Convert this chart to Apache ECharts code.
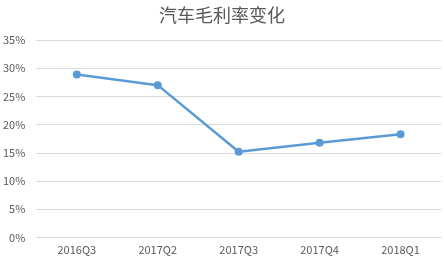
<!DOCTYPE html>
<html><head><meta charset="utf-8">
<script src="https://cdn.jsdelivr.net/npm/echarts@6/dist/echarts.min.js"></script>
<style>html,body{margin:0;padding:0;background:#fff}#c{width:444px;height:263px}</style>
</head><body><div id="c"></div>
<script>
const categories = ['2016Q3','2017Q2','2017Q3','2017Q4','2018Q1'];
const margin = [28.9, 27.0, 15.2, 16.8, 18.3];
const yTicks = [0,5,10,15,20,25,30,35];

const chart = echarts.init(document.getElementById('c'));
chart.setOption({
  animation:false,
  title:{text:'汽车毛利率变化',left:'center',top:1,textStyle:{fontFamily:'Noto Sans CJK SC',fontSize:18,fontWeight:'normal',color:'#595959'}},
  grid:{left:36,right:3,top:40,bottom:25.5},
  xAxis:{type:'category',data:categories,boundaryGap:true,
    axisLine:{show:true,lineStyle:{color:'#d9d9d9'}},axisTick:{show:false},
    axisLabel:{color:'#595959',fontSize:11,fontFamily:'Noto Sans CJK SC',margin:7}},
  yAxis:{type:'value',min:yTicks[0],max:yTicks[yTicks.length-1],interval:5,
    axisLine:{show:false},axisTick:{show:false},
    splitLine:{lineStyle:{color:'#d9d9d9'}},
    axisLabel:{color:'#595959',fontSize:11,fontFamily:'Noto Sans CJK SC',formatter:'{value}%',margin:11}},
  series:[{type:'line',data:margin,symbol:'circle',symbolSize:8,
    lineStyle:{color:'#5b9bd5',width:2.5},itemStyle:{color:'#5b9bd5'}}]
});
</script></body></html>
